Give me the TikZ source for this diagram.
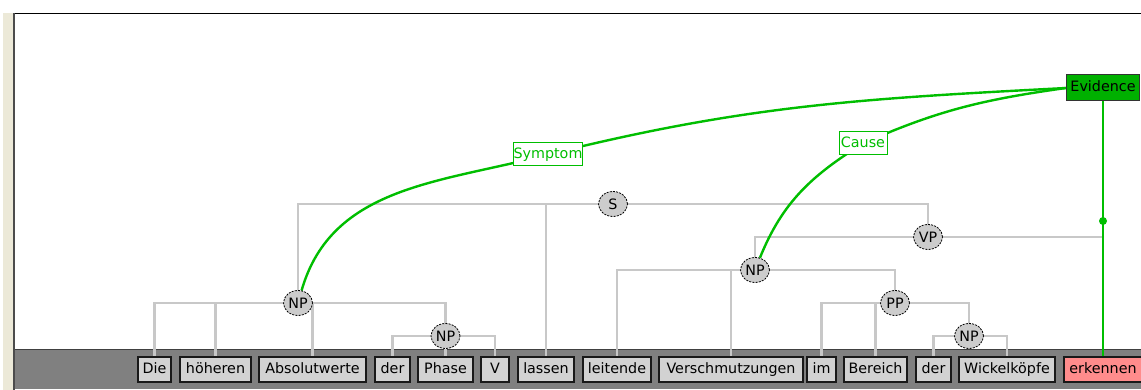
\documentclass[tikz,border=0pt]{standalone}
\usepackage{fontspec}
\setmainfont{DejaVu Sans}
\usetikzlibrary{shapes.geometric}
\pgfdeclarelayer{bg}
\pgfdeclarelayer{edges}
\pgfdeclarelayer{hl}
\pgfsetlayers{bg,edges,hl,main}
\definecolor{wordfill}{RGB}{210,210,210}
\definecolor{catfill}{RGB}{204,204,204}
\definecolor{treegray}{RGB}{200,200,200}
\definecolor{relgreen}{RGB}{0,190,0}
\definecolor{evfill}{RGB}{0,176,0}
\definecolor{redfill}{RGB}{255,140,140}
\definecolor{bandgray}{RGB}{128,128,128}
\definecolor{beige}{RGB}{236,233,216}
\begin{document}
\begin{tikzpicture}[x=1pt,y=1pt,
  font=\fontsize{14.3}{16}\selectfont,
  word/.style={draw=black!90, line width=1.1pt, fill=wordfill, minimum height=25pt,
    inner sep=0pt, text height=10.5pt, text depth=2.5pt},
  cat/.style={ellipse, draw=black, dashed, dash pattern=on 2pt off 1.2pt, line width=0.8pt,
    fill=catfill, minimum width=29pt, minimum height=25pt, inner sep=0pt},
  tree/.style={draw=treegray, line width=2.4pt},
  rel/.style={draw=relgreen, line width=2.4pt},
  lab/.style={draw=relgreen, fill=white, text=relgreen, line width=1pt,
    minimum height=23pt, inner sep=0pt, text height=10.5pt, text depth=2.5pt}]
\useasboundingbox (0,0) rectangle (1141,390);

% background panel
\begin{pgfonlayer}{bg}
  \fill[white] (0,0) rectangle (1141,390);
  \fill[beige] (3,0) rectangle (13,377);
  \fill[bandgray] (14,1) rectangle (1141,40);
  \draw[black!75, line width=1pt] (14,40) -- (1141,40);
  \draw[black, line width=1.5pt] (13,376.5) -- (1141,376.5);
  \draw[black!70, line width=2pt] (13.5,0) -- (13.5,377);
\end{pgfonlayer}

% words
\node[word, minimum width=33pt]  (w1)  at (154.5,20.5) {Die};
\node[word, minimum width=71pt]  (w2)  at (215.5,20.5) {höheren};
\node[word, minimum width=107pt] (w3)  at (312.5,20.5) {Absolutwerte};
\node[word, minimum width=35pt]  (w4)  at (392.5,20.5) {der};
\node[word, minimum width=55pt]  (w5)  at (445.5,20.5) {Phase};
\node[word, minimum width=28pt]  (w6)  at (495,20.5)   {V};
\node[word, minimum width=56pt]  (w7)  at (546,20.5)   {lassen};
\node[word, minimum width=68pt]  (w8)  at (617,20.5)   {leitende};
\node[word, minimum width=144pt] (w9)  at (731,20.5)   {Verschmutzungen};
\node[word, minimum width=29pt]  (w10) at (821.5,20.5) {im};
\node[word, minimum width=63pt]  (w11) at (875.5,20.5) {Bereich};
\node[word, minimum width=35pt]  (w12) at (933.5,20.5) {der};
\node[word, minimum width=96pt]  (w13) at (1007,20.5)  {Wickelköpfe};
\node[word, minimum width=78pt, fill=redfill] (w14) at (1103,20.5) {erkennen};

% categories
\node[cat] (s)   at (613,186)  {S};
\node[cat] (np1) at (298,87)   {NP};
\node[cat] (np2) at (445.5,54) {NP};
\node[cat] (vp)  at (928,153)  {VP};
\node[cat] (np3) at (755,120)  {NP};
\node[cat] (pp)  at (895,87)   {PP};
\node[cat] (np4) at (969,54)   {NP};

% relation nodes
\node[draw=black!80, fill=evfill, line width=1pt, minimum width=73pt, minimum height=26pt,
  inner sep=0pt, text height=10.5pt, text depth=2.5pt] (evidence) at (1103,302) {Evidence};
\node[lab, minimum width=68pt] (symptom) at (548,235.5) {Symptom};
\node[lab, minimum width=48pt] (cause)   at (863,246.5) {Cause};
\node[circle, fill=relgreen, inner sep=0pt, minimum size=8pt] (dot) at (1103,169) {};

% tree edges
\begin{pgfonlayer}{edges}
  \draw[tree] (s) -| (np1);
  \draw[tree] (s) -| (w7);
  \draw[tree] (s) -| (vp);
  \draw[tree] (np1) -| (w1);
  \draw[tree] (np1) -| (w2);
  \draw[tree] (np1) -| (w3);
  \draw[tree] (np1) -| (np2);
  \draw[tree] (np2) -| (w4);
  \draw[tree] (np2) -- (w5);
  \draw[tree] (np2) -| (w6);
  \draw[tree] (vp) -| (np3);
  \draw[tree] (vp) -| (w14);
  \draw[tree] (np3) -| (w8);
  \draw[tree] (np3) -| (w9);
  \draw[tree] (np3) -| (pp);
  \draw[tree] (pp) -| (w10);
  \draw[tree] (pp) -| (w11);
  \draw[tree] (pp) -| (np4);
  \draw[tree] (np4) -| (w12);
  \draw[tree] (np4) -| (w13);
\end{pgfonlayer}

% relation edges
\begin{pgfonlayer}{hl}
  \draw[rel] (evidence) -- (w14);
  \draw[rel] (np1) to[out=74,in=195] (symptom.center) to[out=14,in=183] (evidence.west);
  \draw[rel] (np3) to[out=68,in=212] (cause.center) to[out=24,in=188] (evidence.west);
\end{pgfonlayer}
\end{tikzpicture}
\end{document}
